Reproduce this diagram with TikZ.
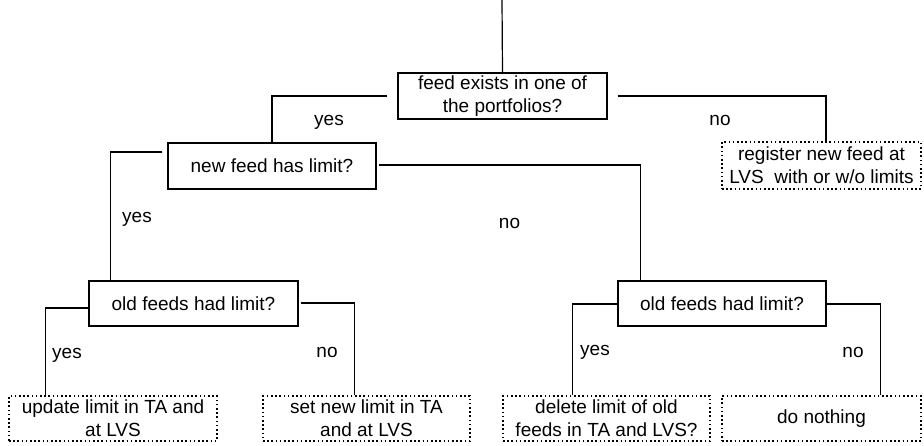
\documentclass[tikz,border=0pt]{standalone}
\usepackage{fontspec}
\setmainfont{Liberation Sans}
\usetikzlibrary{calc}
\begin{document}
\begin{tikzpicture}[x=1pt,y=-1pt,
  every node/.style={font=\fontsize{19}{23}\selectfont, inner sep=0pt},
  question/.style={draw, line width=1.2pt, align=center, minimum height=46pt},
  action/.style={draw, line width=1.1pt, dash pattern=on 1.6pt off 2.6pt, align=center, minimum height=45pt},
  link/.style={draw, line width=1.2pt},
  answer/.style={anchor=base}]
  \useasboundingbox (0,0) rectangle (924,445);

  % decision boxes
  \node[question, minimum width=209pt] (q1) at (502.5,96) {feed exists in one of\\the portfolios?};
  \node[question, minimum width=208pt] (q2) at (272,166) {new feed has limit?};
  \node[question, minimum width=209pt, minimum height=45pt] (q3) at (193.5,303.5) {old feeds had limit?};
  \node[question, minimum width=208pt, minimum height=45pt] (q4) at (722,303.5) {old feeds had limit?};

  % outcome boxes
  \node[action, minimum width=199pt, minimum height=47pt] (reg) at (821.5,165.5) {register new feed at\\LVS~ with or w/o limits};
  \node[action, minimum width=208pt] (a1) at (113,418.5) {update limit in TA and\\at LVS};
  \node[action, minimum width=207pt] (a2) at (366.5,418.5) {set new limit in TA\\and at LVS};
  \node[action, minimum width=207pt] (a3) at (606.5,418.5) {delete limit of old\\feeds in TA and LVS?};
  \node[action, minimum width=199pt] (a4) at (821.5,418.5) {do nothing};

  % entry line
  \coordinate (start) at (502,0);
  \draw[link] (start) -- (q1.north);

  % connectors
  \draw[link, shorten <=10pt] (q1.west) -| (q2.north);
  \draw[link, shorten <=10pt] (q1.east) -| ($(reg.north)+(4.5,0)$);
  \draw[link, shorten <=5pt] ([yshift=14pt]q2.west) -| ($(q3.north west)+(22,0)$);
  \draw[link, shorten <=2pt] ([yshift=1pt]q2.east) -| ($(q4.north west)+(23,0)$);
  \draw[link] ([yshift=-4.5pt]q3.west) -| ($(a1.north west)+(37,0)$);
  \draw[link, shorten <=2pt] ([yshift=0.5pt]q3.east) -| ($(a2.north west)+(92,0)$);
  \draw[link] ([yshift=-0.5pt]q4.west) -| ($(a3.north west)+(70,0)$);
  \draw[link] ([yshift=-0.5pt]q4.east) -| ($(a4.north west)+(159,0)$);

  % branch labels
  \node[answer] (y1) at (329,125) {yes};
  \node[answer] (n1) at (720,125) {no};
  \node[answer] (y2) at (137,222) {yes};
  \node[answer] (n2) at (509.5,228) {no};
  \node[answer] (y3) at (67,358) {yes};
  \node[answer] (n3) at (327,357) {no};
  \node[answer] (y4) at (595,355) {yes};
  \node[answer] (n4) at (853,357) {no};
\end{tikzpicture}
\end{document}
